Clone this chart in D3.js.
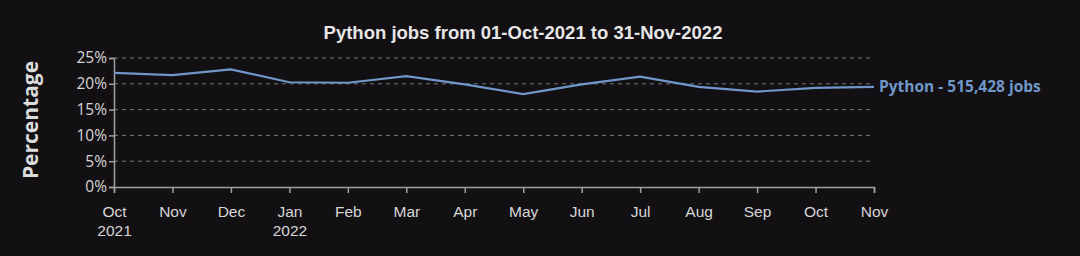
<!DOCTYPE html>
<html>
<head>
<meta charset="utf-8">
<script src="https://cdn.jsdelivr.net/npm/d3@7"></script>
<style>
    body { margin: 0; background: #121013; }
    svg { display: block; font-family: "Open Sans", "Noto Sans", sans-serif; }
</style>
</head>
<body>
<div id="chart"></div>
<script>
// monthly share of python jobs (percent)
const months = ["Oct", "Nov", "Dec", "Jan", "Feb", "Mar", "Apr", "May", "Jun", "Jul", "Aug", "Sep", "Oct", "Nov"];
const years = ["2021", "", "", "2022", "", "", "", "", "", "", "", "", "", ""];
const pythonShare = [22.1, 21.7, 22.8, 20.3, 20.2, 21.5, 19.9, 18.0, 19.9, 21.4, 19.4, 18.5, 19.2, 19.4];
const yTicks = [0, 5, 10, 15, 20, 25];
const seriesLabel = "Python - 515,428 jobs";
const title = "Python jobs from 01-Oct-2021 to 31-Nov-2022";

const width = 1080, height = 256;
const margin = { top: 58, right: 206, bottom: 69, left: 114 };
const innerW = width - margin.left - margin.right;
const innerH = height - margin.top - margin.bottom;

const svg = d3.select("#chart").append("svg")
    .attr("width", width)
    .attr("height", height);

svg.append("rect").attr("width", width).attr("height", height).attr("fill", "#121013");

const plot = svg.append("g")
    .attr("transform", `translate(${margin.left},${margin.top})`);

const x = d3.scalePoint()
    .domain(d3.range(months.length))
    .range([0, innerW]);

const y = d3.scaleLinear()
    .domain([0, 25])
    .range([innerH, 0]);

// dashed grid
plot.append("g")
    .selectAll("line")
    .data(yTicks.filter(d => d > 0))
    .enter()
    .append("line")
    .attr("x1", 0)
    .attr("x2", innerW)
    .attr("y1", d => y(d))
    .attr("y2", d => y(d))
    .attr("stroke", "#77777a")
    .attr("stroke-width", 1)
    .attr("stroke-dasharray", "4,4");

// axes
const xAxis = d3.axisBottom(x).tickSize(6).tickFormat(() => "");
const gx = plot.append("g")
    .attr("transform", `translate(0,${innerH})`)
    .call(xAxis);

gx.selectAll(".tick").each(function(d) {
    const t = d3.select(this).append("text")
        .attr("fill", "#d6d6d6")
        .attr("font-size", 15.5)
        .attr("text-anchor", "middle");
    t.append("tspan").attr("x", 0).attr("y", 30).text(months[d]);
    if (years[d]) t.append("tspan").attr("x", 0).attr("y", 49).text(years[d]);
});

const yAxis = d3.axisLeft(y).tickValues(yTicks).tickSize(5).tickFormat(d => d + "%");
const gy = plot.append("g").call(yAxis);
gy.selectAll("text")
    .attr("fill", "#d6d6d6")
    .attr("font-size", 15.5)
    .attr("x", -7)
    .attr("font-family", "\"Open Sans\", sans-serif");

plot.selectAll(".domain, .tick line")
    .attr("stroke", "#a0a0a0")
    .attr("stroke-width", 1.5);

// the line
const line = d3.line()
    .x((d, i) => x(i))
    .y(d => y(d));

plot.append("path")
    .datum(pythonShare)
    .attr("fill", "none")
    .attr("stroke", "#6f97c8")
    .attr("stroke-width", 2.2)
    .attr("d", line);

const last = pythonShare.length - 1;
plot.append("text")
    .attr("x", x(last) + 5)
    .attr("y", y(pythonShare[last]))
    .attr("dy", "0.35em")
    .attr("fill", "#6f97c8")
    .attr("font-size", 15.5)
    .attr("font-weight", "bold")
    .text(seriesLabel);

// title
svg.append("text")
    .attr("x", 523)
    .attr("y", 39)
    .attr("text-anchor", "middle")
    .attr("fill", "#e6e6e6")
    .attr("font-size", 18.5)
    .attr("font-weight", "bold")
    .attr("font-family", "\"Liberation Sans\", Arial, sans-serif")
    .text(title);

// y label
svg.append("text")
    .attr("transform", "translate(38,120) rotate(-90)")
    .attr("text-anchor", "middle")
    .attr("fill", "#dcdcdc")
    .attr("font-size", 21)
    .attr("font-weight", "bold")
    .text("Percentage");
</script>
</body>
</html>
